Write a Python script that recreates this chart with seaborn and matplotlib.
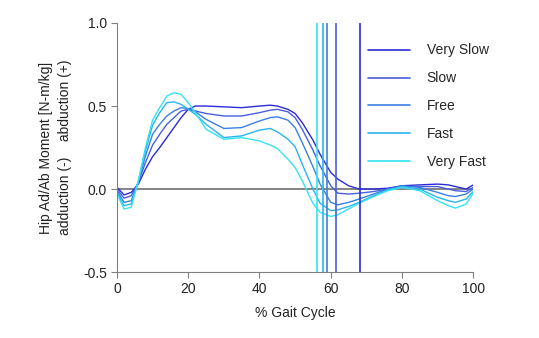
import matplotlib
matplotlib.use("Agg")
import matplotlib.pyplot as plt
import seaborn as sns
import pandas as pd

gait_pct = [0, 2, 4, 6, 8, 10, 12, 14, 16, 18, 20, 22, 25, 30, 35, 40, 43, 45, 48, 50,
            52, 55, 57, 60, 62, 65, 68, 72, 76, 80, 85, 90, 93, 95, 98, 100]

very_slow = [0.01, -0.035, -0.02, 0.03, 0.12, 0.195, 0.25, 0.31, 0.37, 0.43, 0.48, 0.50, 0.50,
             0.495, 0.49, 0.50, 0.505, 0.50, 0.48, 0.455, 0.40, 0.295, 0.21, 0.10, 0.06, 0.02,
             0.0, 0.0, 0.005, 0.02, 0.025, 0.03, 0.025, 0.015, 0.0, 0.025]
slow = [0.0, -0.055, -0.04, 0.04, 0.16, 0.265, 0.33, 0.39, 0.43, 0.47, 0.48, 0.47, 0.455,
        0.44, 0.44, 0.46, 0.475, 0.48, 0.465, 0.43, 0.36, 0.235, 0.14, 0.02, -0.025, -0.03,
        -0.025, -0.015, 0.0, 0.015, 0.015, 0.015, 0.0, -0.01, -0.015, 0.01]
free = [-0.01, -0.08, -0.07, 0.04, 0.20, 0.33, 0.39, 0.44, 0.47, 0.49, 0.485, 0.465, 0.42,
        0.365, 0.37, 0.41, 0.43, 0.435, 0.415, 0.37, 0.28, 0.135, 0.03, -0.08, -0.095, -0.08,
        -0.06, -0.03, 0.0, 0.02, 0.01, -0.02, -0.04, -0.045, -0.03, 0.0]
fast = [-0.02, -0.10, -0.09, 0.045, 0.23, 0.385, 0.46, 0.52, 0.525, 0.51, 0.48, 0.45, 0.39,
        0.31, 0.32, 0.355, 0.365, 0.345, 0.30, 0.255, 0.15, 0.0, -0.085, -0.13, -0.125, -0.105,
        -0.08, -0.04, -0.005, 0.015, 0.0, -0.05, -0.07, -0.08, -0.06, -0.015]
very_fast = [-0.03, -0.12, -0.11, 0.05, 0.25, 0.415, 0.49, 0.56, 0.58, 0.57, 0.52, 0.46, 0.36,
             0.30, 0.31, 0.29, 0.265, 0.245, 0.18, 0.13, 0.05, -0.085, -0.14, -0.165, -0.155,
             -0.12, -0.085, -0.045, -0.01, 0.01, -0.01, -0.07, -0.10, -0.115, -0.09, -0.025]

speeds = ["Very Slow", "Slow", "Free", "Fast", "Very Fast"]
toe_off = [68.1, 61.6, 59.0, 57.7, 56.1]
colors = ["#2b2bd6", "#4a5ee0", "#3a80e2", "#2ab4ec", "#33e4f2"]

series = [very_slow, slow, free, fast, very_fast]
df = pd.concat([pd.DataFrame({"pct": gait_pct, "moment": s, "speed": name})
                for name, s in zip(speeds, series)], ignore_index=True)

sns.set_theme(style="white")
plt.rcParams["font.family"] = ["Liberation Sans", "DejaVu Sans"]
plt.rcParams["lines.solid_joinstyle"] = "round"

fig = plt.figure(figsize=(5.39, 3.38), dpi=100)
ax = fig.add_axes([0.217, 0.195, 0.661, 0.737])

ax.axhline(0, color="#707070", lw=1.2, zorder=1)
palette = dict(zip(speeds, colors))
sns.lineplot(data=df, x="pct", y="moment", hue="speed", hue_order=speeds,
             palette=palette, lw=1.0, ax=ax, legend=False, zorder=2)
for xv, c, name in zip(toe_off, colors, speeds):
    ax.axvline(xv, color=c, lw=1.2, zorder=3, label=name)

ax.set_xlim(0, 100)
ax.set_ylim(-0.5, 1.0)
ax.set_xticks([0, 20, 40, 60, 80, 100])
ax.set_yticks([-0.5, 0.0, 0.5, 1.0])
ax.set_yticklabels(["-0.5", "0.0", "0.5", "1.0"])
ax.tick_params(axis="both", direction="out", length=4, width=0.8, color="#808080",
               labelsize=10, labelcolor="#222222", pad=3, left=True, bottom=True)
for side in ["top", "right"]:
    ax.spines[side].set_visible(False)
for side in ["left", "bottom"]:
    ax.spines[side].set_color("#808080")
    ax.spines[side].set_linewidth(0.8)

ax.set_xlabel("% Gait Cycle", fontsize=10, color="#222222", labelpad=7)
ax.set_ylabel("Hip Ad/Ab Moment [N-m/kg]\nadduction (-)    abduction (+)",
              fontsize=10, color="#222222", labelpad=8, linespacing=1.5)

ax.legend(loc="upper left", bbox_to_anchor=(0.69, 0.94), frameon=False, fontsize=10,
          handlelength=3.0, handletextpad=1.2, labelspacing=1.0, borderaxespad=0)

fig.savefig("out.png", dpi=100, facecolor="white")
